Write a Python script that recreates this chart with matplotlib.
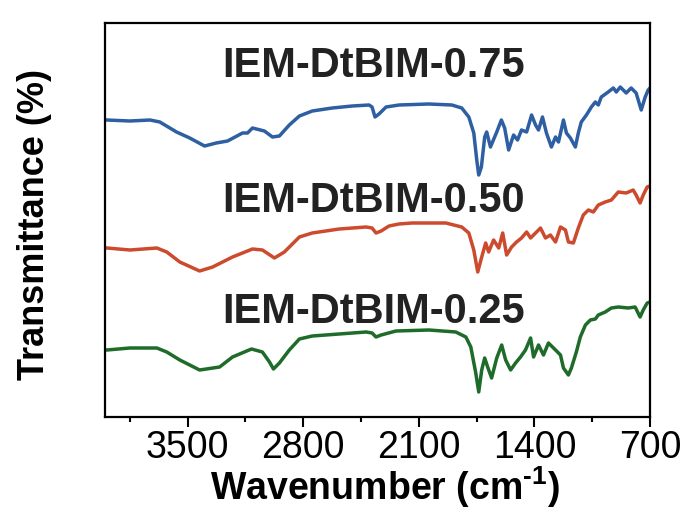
"""FTIR spectra of the IEM-DtBIM membranes, stacked with offsets."""

import matplotlib
import matplotlib.pyplot as plt

matplotlib.use("Agg")
plt.rcParams["font.family"] = ["Liberation Sans", "DejaVu Sans"]
plt.rcParams["mathtext.fontset"] = "custom"
plt.rcParams["mathtext.rm"] = "Liberation Sans:bold"
plt.rcParams["mathtext.bf"] = "Liberation Sans:bold"
plt.rcParams["mathtext.default"] = "bf"

# wavenumber (cm-1) and offset transmittance (arbitrary units)
wn_075 = [4000, 3990, 3849, 3728, 3668, 3567, 3487, 3397, 3326, 3258, 3167, 3137,
          3107, 3035, 2986, 2944, 2884, 2823, 2745, 2624, 2503, 2401, 2383, 2365,
          2341, 2298, 2220, 2039, 1900, 1840, 1797, 1767, 1749, 1737, 1721, 1701,
          1689, 1666, 1628, 1600, 1580, 1556, 1526, 1502, 1478, 1447, 1417, 1393,
          1375, 1351, 1327, 1297, 1272, 1254, 1224, 1206, 1182, 1152, 1134, 1116,
          1085, 1055, 1031, 1013, 995, 953, 922, 904, 880, 844, 814, 784, 753,
          729, 711, 700]
t_075 = [297, 297, 296, 297, 295, 285, 279, 271, 274, 276, 284, 284,
         289, 286, 280, 281, 292, 301, 306, 309, 311, 312, 310, 300,
         303, 310, 312, 313, 312, 309, 300, 284, 257, 242, 250, 280,
         285, 270, 285, 297, 289, 267, 282, 277, 287, 285, 302, 292,
         287, 300, 284, 270, 280, 275, 297, 284, 279, 270, 284, 295,
         302, 310, 315, 312, 320, 325, 329, 325, 330, 324, 329, 324, 307,
         320, 327, 329]

wn_050 = [4000, 3988, 3849, 3686, 3626, 3547, 3427, 3348, 3228, 3107, 3047, 2974,
          2914, 2823, 2745, 2582, 2419, 2383, 2359, 2328, 2280, 2220, 2141, 1936,
          1840, 1797, 1767, 1743, 1719, 1695, 1677, 1647, 1616, 1592, 1568, 1538,
          1508, 1478, 1447, 1423, 1393, 1363, 1333, 1303, 1272, 1242, 1212, 1194,
          1164, 1134, 1104, 1073, 1043, 1013, 971, 934, 892, 844, 802, 784, 760,
          741, 717, 700]
t_050 = [169, 169, 167, 169, 165, 155, 146, 150, 160, 168, 167, 159,
         165, 180, 184, 188, 190, 189, 184, 186, 191, 193, 194, 194,
         190, 184, 167, 145, 160, 174, 165, 177, 169, 184, 162, 170,
         175, 179, 185, 179, 184, 189, 179, 182, 175, 190, 187, 175,
         174, 189, 202, 207, 205, 212, 215, 217, 225, 224, 227, 222, 214,
         222, 230, 231]

wn_025 = [4000, 3988, 3849, 3686, 3626, 3547, 3427, 3306, 3228, 3113, 3047, 3004,
          2980, 2944, 2884, 2823, 2745, 2582, 2419, 2383, 2359, 2328, 2238, 2039,
          1876, 1815, 1785, 1755, 1737, 1719, 1701, 1683, 1659, 1628, 1598, 1574,
          1544, 1514, 1484, 1454, 1423, 1405, 1375, 1345, 1315, 1272, 1242, 1224,
          1194, 1176, 1146, 1122, 1091, 1061, 1031, 1013, 971, 934, 892, 832, 790,
          760, 741, 717, 700]
t_025 = [67, 67, 69, 69, 65, 57, 47, 50, 60, 68, 65, 55,
         48, 54, 67, 78, 81, 83, 85, 84, 80, 82, 86, 87,
         85, 80, 70, 44, 25, 47, 59, 50, 39, 59, 72, 57,
         47, 54, 60, 67, 79, 60, 72, 62, 74, 67, 62, 49,
         42, 49, 65, 80, 92, 97, 98, 102, 105, 109, 110, 109, 110,
         100, 107, 114, 115]

series = [
    ("IEM-DtBIM-0.75", wn_075, t_075, "#2e5fa3", 340),
    ("IEM-DtBIM-0.50", wn_050, t_050, "#cc4a2e", 205),
    ("IEM-DtBIM-0.25", wn_025, t_025, "#1e6b2a", 94),
]

x_ticks = [3500, 2800, 2100, 1400, 700]
x_minor = [3850, 3150, 2450, 1750, 1050]

fig = plt.figure(figsize=(6.89, 5.12), dpi=100)
ax = fig.add_axes([105 / 689, 1 - 417 / 512, 545 / 689, 394 / 512])

for label, wn, t, color, label_y in series:
    ax.plot(wn, t, color=color, lw=2.5, solid_joinstyle="round")
    ax.text(2371, label_y, label, fontsize=30, fontweight="bold",
            color="#222222", ha="center", va="baseline")

ax.set_xlim(4000, 700)
ax.set_ylim(0, 394)
ax.set_xticks(x_ticks)
ax.set_xticks(x_minor, minor=True)
ax.set_yticks([])
ax.tick_params(axis="x", which="major", direction="out", length=7, width=1.5,
               labelsize=27, pad=2)
ax.tick_params(axis="x", which="minor", direction="out", length=3.5, width=1.5)
for spine in ax.spines.values():
    spine.set_linewidth(1.6)

fig.text(210 / 689, 1 - 500 / 512, r"Wavenumber (cm$^{\text{-1}}$)", fontsize=27,
         fontweight="bold", ha="left", va="baseline")
fig.text(35 / 689, 1 - 224 / 512, "Transmittance (%)", fontsize=26,
         fontweight="bold", rotation=90, ha="center", va="center")

fig.savefig("out.png", dpi=100)
